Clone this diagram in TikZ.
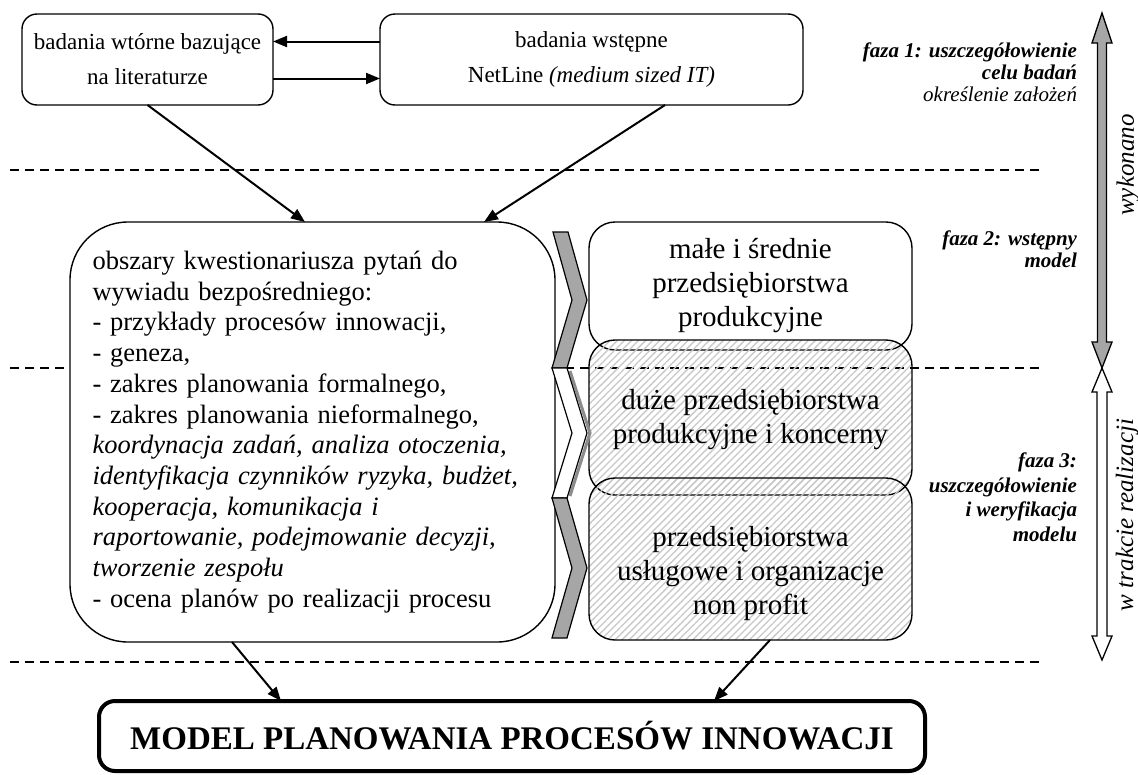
\documentclass[tikz,border=0pt]{standalone}
\usepackage{fontspec}
\setmainfont{Liberation Serif}
\usetikzlibrary{arrows.meta,patterns.meta,calc}

\definecolor{chevgray}{HTML}{A6A6A6}
\definecolor{hatchgray}{HTML}{C8C8C8}
\definecolor{shadowgray}{HTML}{8C8C8C}

\begin{document}
\begin{tikzpicture}[x=1pt,y=-1pt,
  every node/.style={inner sep=0pt, outer sep=0pt},
  topbox/.style={draw, fill=white, line width=1.4pt, rounded corners=15pt, align=center,
    font={\fontsize{23}{35}\selectfont}},
  areabox/.style={draw, fill=white, line width=1.4pt, rounded corners=58pt, align=left,
    text width=440pt, font={\fontsize{26.5}{30.7}\selectfont}},
  groupbox/.style={draw, fill=white, line width=1.4pt, rounded corners=26pt,
    minimum width=323pt, align=center},
  grouptext/.style={align=center, font={\fontsize{29}{34}\selectfont}},
  hatched/.style={pattern={Lines[angle=45,distance=5pt,line width=1.3pt]}, pattern color=hatchgray},
  modelbox/.style={draw, fill=white, line width=4pt, rounded corners=16pt,
    font={\fontsize{33}{38}\selectfont\bfseries}},
  flow/.style={line width=2pt, -{Triangle[length=14pt,width=11pt]}},
  phase/.style={align=right, anchor=east, font={\fontsize{21}{22}\selectfont\bfseries\itshape}},
  sidetag/.style={font={\fontsize{25}{28}\selectfont\itshape}, rotate=90},
  divider/.style={line width=1.2pt, dash pattern=on 9pt off 6pt},
  chevron/.style={draw, line width=1.2pt, line join=miter},
  spanarrow/.style={draw, line width=1.3pt, line join=miter},
]
\useasboundingbox (0,0) rectangle (1138,774);

% phase dividers
\draw[divider] (10,170) -- (1040,170);
\draw[divider] (10,368) -- (1040,368);
\draw[divider] (10,662) -- (1040,662);

% research sources
\node[topbox, minimum width=251pt, minimum height=91pt] (lit) at (147.5,59.5)
  {badania wtórne bazujące\\na literaturze};
\node[topbox, minimum width=423pt, minimum height=91pt] (pre) at (591.5,59.5)
  {badania wstępne\\NetLine \textit{(medium sized IT)}};
\draw[flow] ([yshift=18pt]pre.west) -- ([yshift=18pt]lit.east);
\draw[flow] ([yshift=-19pt]lit.east) -- ([yshift=-19pt]pre.west);

% questionnaire areas
\node[areabox, minimum width=485pt, minimum height=420pt] (area) at (312.5,432)
  {obszary kwestionariusza pytań do\\
   wywiadu bezpośredniego:\\
   - przykłady procesów innowacji,\\
   - geneza,\\
   - zakres planowania formalnego,\\
   - zakres planowania nieformalnego,\\
   \textit{koordynacja zadań, analiza otoczenia,}\\
   \textit{identyfikacja czynników ryzyka, budżet,}\\
   \textit{kooperacja, komunikacja i}\\
   \textit{raportowanie, podejmowanie decyzji,}\\
   \textit{tworzenie zespołu}\\
   - ocena planów po realizacji procesu};
\draw[flow] (lit.south) -- ([xshift=-7.5pt]area.north);
\draw[flow] ([xshift=73.5pt]pre.south) -- ([xshift=171.5pt]area.north);

% enterprise groups
\node[groupbox, minimum height=128pt] (sme) at (750.5,286) {};
\node[grouptext] (smetext) at (750.5,286) {małe i średnie\\przedsiębiorstwa\\produkcyjne};
\node[groupbox, hatched, minimum height=155pt] (large) at (750.5,417.5) {};
\node[grouptext] (largetext) at (750.5,420) {duże przedsiębiorstwa\\produkcyjne i koncerny};
\node[groupbox, hatched, minimum height=162pt] (serv) at (750.5,559) {};
\node[grouptext] (servtext) at (750.5,574) {przedsiębiorstwa\\usługowe i organizacje\\non profit};

% chevrons
\path[chevron, fill=chevgray] (553,232) -- (568,232) -- (587,300) -- (567,368)
  -- (552,368) -- (572,300) -- cycle;
\draw[shadowgray, line width=3pt] (570,371) -- (590,433) -- (570,496);
\path[chevron, fill=white] (552,368) -- (567,368) -- (587,433) -- (567,498)
  -- (552,498) -- (572,433) -- cycle;
\path[chevron, fill=chevgray] (552,498) -- (567,498) -- (587,568) -- (567,638)
  -- (552,638) -- (572,568) -- cycle;

% final model
\node[modelbox, minimum width=826pt, minimum height=70pt] (model) at (512,736)
  {MODEL PLANOWANIA PROCESÓW INNOWACJI};
\draw[flow] ([xshift=-80.5pt]area.south) -- ([xshift=-231pt]model.north);
\draw[flow] ([xshift=19.5pt]serv.south) -- ([xshift=202pt]model.north);

% phase descriptions
\node[phase] (ph1) at (1077,72) {faza 1: uszczegółowienie\\celu badań\\\mdseries określenie założeń};
\node[phase] (ph2) at (1077,249) {faza 2: wstępny\\model};
\node[phase, font={\fontsize{21}{24.5}\selectfont\bfseries\itshape}] (ph3) at (1077,497)
  {faza 3:\\uszczegółowienie\\i weryfikacja\\modelu};

% progress span arrows
\path[spanarrow, fill=chevgray] (1102,13) -- (1112,43) -- (1106.5,43) -- (1106.5,342)
  -- (1112,342) -- (1102,368) -- (1092,342) -- (1097.5,342) -- (1097.5,43) -- (1092,43) -- cycle;
\path[spanarrow, fill=white] (1102,368) -- (1112,392) -- (1107,392) -- (1107,636)
  -- (1112,636) -- (1102,660) -- (1092,636) -- (1097,636) -- (1097,392) -- (1092,392) -- cycle;
\node[sidetag] (done) at (1128,165) {wykonano};
\node[sidetag] (ongoing) at (1127,515) {w trakcie realizacji};
\end{tikzpicture}
\end{document}
